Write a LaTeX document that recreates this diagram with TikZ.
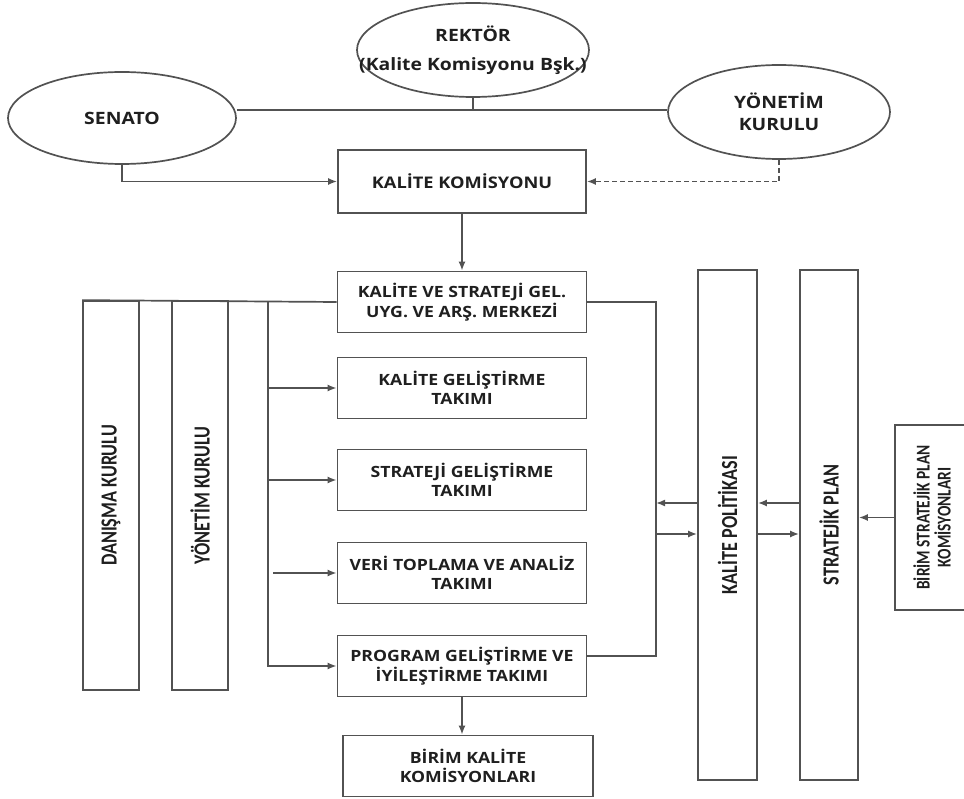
\documentclass[tikz,border=0pt]{standalone}
\usepackage{fontspec}
\setmainfont{Open Sans}
\newfontfamily\hfont{Open Sans}[FakeStretch=1.14]
\newfontfamily\vfont{Carlito}[FakeStretch=0.79]
\usetikzlibrary{arrows.meta,positioning,shapes.geometric,calc}
\definecolor{lineGray}{gray}{0.32}
\definecolor{txtGray}{gray}{0.12}
\tikzset{
  ell/.style={ellipse, draw=lineGray, line width=1.7pt, inner xsep=-40pt, inner ysep=1pt, align=center, text=txtGray, font=\hfont\bfseries\fontsize{17}{29}\selectfont},
  box/.style={rectangle, draw=lineGray, line width=1.7pt, inner sep=1pt, align=center, text=txtGray, font=\hfont\bfseries\fontsize{15.5}{19.5}\selectfont},
  team/.style={box, minimum width=249, minimum height=61},
  bar/.style={rectangle, rotate=90, draw=lineGray, line width=1.7pt, inner sep=1pt, align=center, text=txtGray, font=\vfont\bfseries\fontsize{23}{26}\selectfont},
  link/.style={draw=lineGray, line width=1.7pt},
  arrow/.style={link, -{Latex[length=9pt, width=7pt]}},
  dasharrow/.style={arrow, dash pattern=on 5pt off 3pt}
}
\begin{document}
\begin{tikzpicture}[x=1pt, y=-1pt]
  \useasboundingbox (0,0) rectangle (964,799);
  % top
  \node[ell, minimum width=232, minimum height=94] (rektor) at (473,50) {REKTÖR\\(Kalite Komisyonu Bşk.)};
  \node[ell, minimum width=228, minimum height=92] (senato) at (122,118) {SENATO};
  \node[ell, minimum width=222, minimum height=94, font=\hfont\bfseries\fontsize{17}{22}\selectfont] (ykurul) at (779,112) {YÖNETİM\\KURULU};
  \coordinate (hub) at (473,110);
  \draw[link] (rektor.south) -- (hub);
  \draw[link] (senato.east |- hub) -- (ykurul.west |- hub);
  \node[box, minimum width=248, minimum height=63, font=\hfont\bfseries\fontsize{16}{20}\selectfont] (komisyon) at (462,181.5) {KALİTE KOMİSYONU};
  \draw[arrow] (senato.south) |- (komisyon.west);
  \draw[dasharrow] (ykurul.south) |- (komisyon.east);
  % centre column
  \node[team] (merkez) at (462,302) {KALİTE VE STRATEJİ GEL.\\UYG. VE ARŞ. MERKEZİ};
  \node[team] (kgt) at (462,388) {KALİTE GELİŞTİRME\\TAKIMI};
  \node[team] (sgt) at (462,480) {STRATEJİ GELİŞTİRME\\TAKIMI};
  \node[team] (vat) at (462,573) {VERİ TOPLAMA VE ANALİZ\\TAKIMI};
  \node[team] (pgt) at (462,666) {PROGRAM GELİŞTİRME VE\\İYİLEŞTİRME TAKIMI};
  \node[team, minimum width=250] (bkk) at (468,766) {BİRİM KALİTE\\KOMİSYONLARI};
  \draw[arrow] (komisyon.south) -- (merkez.north);
  \draw[arrow] (pgt.south) -- (pgt.south |- bkk.north);
  % left boards
  \node[bar, minimum width=389, minimum height=56] (danisma) at (111,495.5) {DANIŞMA KURULU};
  \node[bar, minimum width=389, minimum height=56] (ykbar) at (200,495.5) {YÖNETİM KURULU};
  \draw[link] (danisma.north east) -- (merkez.west);
  \coordinate (split) at (268,302);
  \draw[arrow] (split) |- (pgt.west);
  \draw[arrow] (split |- kgt.west) -- (kgt.west);
  \draw[arrow] (split |- sgt.west) -- (sgt.west);
  \draw[arrow] ($(split |- vat.west)+(5,0)$) -- (vat.west);
  % right side
  \node[bar, minimum width=510, minimum height=59] (kpol) at (727.5,525) {KALİTE POLİTİKASI};
  \node[bar, minimum width=510, minimum height=58] (splan) at (829,525) {STRATEJİK PLAN};
  \node[bar, minimum width=185, minimum height=74, font=\vfont\bfseries\fontsize{19.5}{21}\selectfont] (bsp) at (932,517.5) {BİRİM STRATEJİK PLAN\\KOMİSYONLARI};
  \coordinate (rbus) at (656,302);
  \coordinate (upY) at (0,503);
  \coordinate (dnY) at (0,534);
  \draw[link] (merkez.east) -- (rbus) |- ([yshift=10pt]pgt.east);
  \draw[arrow] (kpol.north |- upY) -- (rbus |- upY);
  \draw[arrow] (rbus |- dnY) -- (kpol.north |- dnY);
  \draw[arrow] (splan.north |- upY) -- (kpol.south |- upY);
  \draw[arrow] (kpol.south |- dnY) -- (splan.north |- dnY);
  \draw[arrow] (bsp.north) -- (splan.south |- bsp.north);
\end{tikzpicture}
\end{document}
